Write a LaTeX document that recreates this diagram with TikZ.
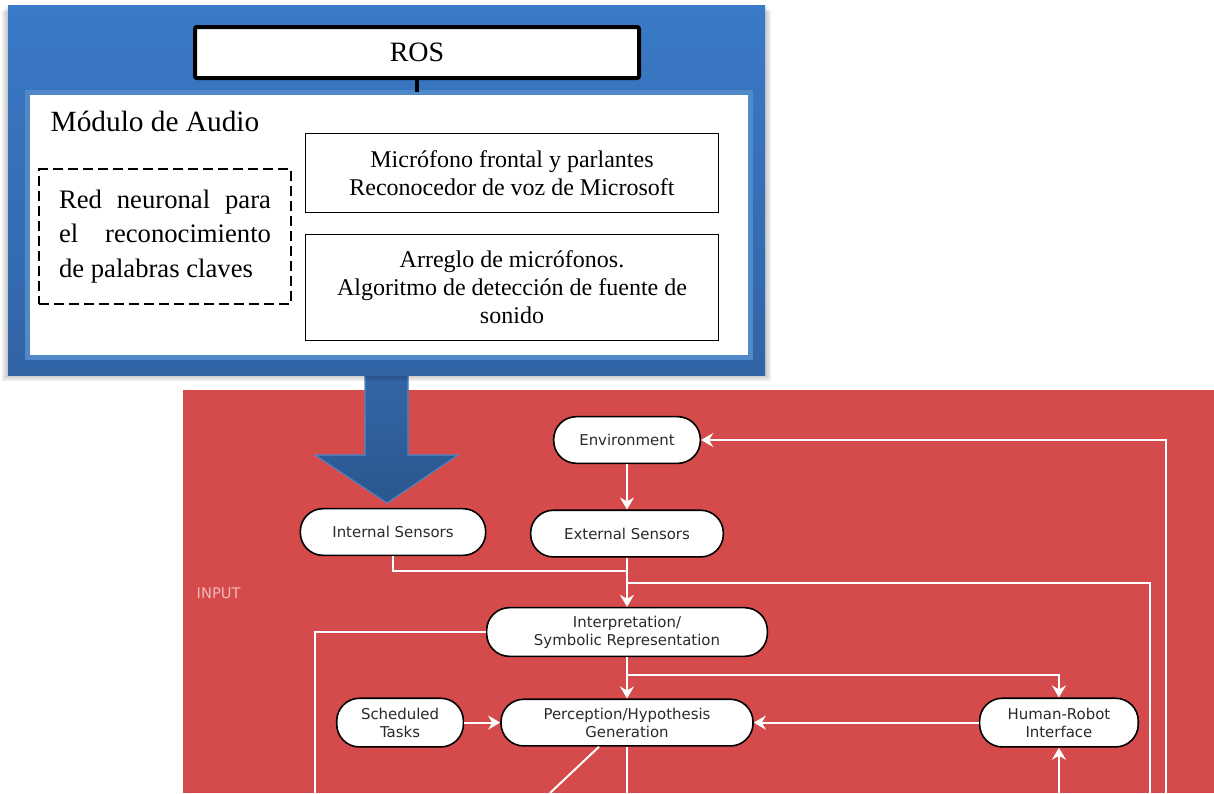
\documentclass[tikz,border=0pt]{standalone}
\usepackage{fontspec}
\setmainfont{Liberation Serif}
\newfontfamily\flowfont{DejaVu Sans}
\usetikzlibrary{arrows.meta,positioning,calc}
\definecolor{paneltop}{HTML}{3A7AC8}
\definecolor{panelbot}{HTML}{3264A6}
\definecolor{bevel}{HTML}{5088C8}
\definecolor{arrowblue}{HTML}{3366A8}
\definecolor{flowred}{HTML}{D54A4A}
\definecolor{inputpink}{HTML}{F2B8B8}
\definecolor{pilltext}{HTML}{2A2A2A}

\begin{document}
\begin{tikzpicture}[x=0.75pt,y=-0.75pt,
      hwbox/.style={draw=black,line width=0.6pt,fill=white,minimum width=310pt,align=center,
                    font=\fontsize{18}{21}\selectfont},
      pill/.style={draw=black,line width=1.2pt,fill=white,rounded corners=17pt,minimum height=35pt,
                   text=pilltext,align=center,inner sep=2pt,font=\flowfont\fontsize{11.2}{13.5}\selectfont},
      wline/.style={white,line width=1.5pt},
      arr/.style={wline,-{Stealth[length=9pt,width=10.5pt,inset=3pt]}}]

    \useasboundingbox (0,0) rectangle (1214,793);
    \fill[white] (0,0) rectangle (1214,793);

    % red flow chart area
    \fill[flowred] (183,390) rectangle (1214,793);
    \node[anchor=west,text=inputpink,font=\flowfont\fontsize{11}{13}\selectfont] (inlbl) at (192,593) {INPUT};

    \node[pill,minimum width=110pt] (env) at (627,440) {Environment};
    \node[pill,minimum width=144.5pt,below=34pt of env] (ext) {External Sensors};
    \node[pill,minimum width=139pt] (int) at (393,532) {Internal Sensors};
    \node[pill,minimum width=210.5pt,minimum height=36.5pt] (interp) at (627,632) {Interpretation/\\Symbolic Representation};
    \node[pill,minimum width=189pt,below=31pt of interp] (perc) {Perception/Hypothesis\\Generation};
    \node[pill,minimum width=95pt,minimum height=36.5pt,left=27pt of perc] (sched) {Scheduled\\Tasks};
    \node[pill,minimum width=119pt,minimum height=36.5pt,right=168.75pt of perc] (hri) {Human-Robot\\Interface};

    \coordinate (join) at (627,571);
    \coordinate (split) at (627,583);
    \coordinate (fork) at (627,675);
    \coordinate (outfb) at (1150,793);
    \coordinate (outret) at (1166,793);
    \coordinate (outhri) at (1057,793);
    \coordinate (outleft) at (315,793);
    \coordinate (outmid) at (627,793);
    \coordinate (outdiag) at (550,793);

    \draw[arr] (env) -- (ext);
    \draw[arr] (ext) -- (interp);
    \draw[wline] (int.south) |- (join);
    \draw[wline] (split) -| (outfb);
    \draw[arr] (outret) |- (env.east);
    \draw[arr] (interp) -- (perc);
    \draw[arr] (fork) -| (hri.north);
    \draw[arr] (sched) -- (perc);
    \draw[arr] (hri) -- (perc);
    \draw[arr] (hri.south |- outhri) -- (hri);
    \draw[wline] (interp.west) -| (outleft);
    \draw[wline] (perc.south) -- (outmid);
    \draw[wline] ([xshift=-21pt]perc.south) -- (outdiag);

    % blue block arrow into the sensors
    \fill[top color=arrowblue,bottom color=arrowblue!85!black,draw=bevel,line width=0.8pt]
      (365,372) -- (408,372) -- (408,455) -- (458,455) -- (387,503) -- (315,455) -- (365,455) -- cycle;

    % ROS audio panel
    \foreach \s in {2,4,6}
      \fill[black,opacity=0.07] (8-\s,5+\s) rectangle (765+\s,375+\s);
    \node[inner sep=0,minimum width=567.75pt,minimum height=277.5pt,top color=paneltop,bottom color=panelbot] (panel) at (386.5,190) {};
    \node[inner sep=0,minimum width=546pt,minimum height=202.5pt,fill=bevel] (frame) at (389,225) {};
    \node[inner sep=0,minimum width=538.5pt,minimum height=195pt,fill=white] (audio) at (389,225) {};

    \node[draw=black,line width=3pt,fill=white,rounded corners=1.5pt,minimum width=333pt,minimum height=38.25pt,
          font=\fontsize{21}{25}\selectfont] (ros) at (417,52.5) {ROS};
    \draw[line width=2.5pt] (ros.south) -- ++(0,12);

    \node[anchor=base west,font=\fontsize{22}{26}\selectfont] (modlbl) at (46,131) {Módulo de Audio};

    \node[draw=black,line width=1.6pt,dash pattern=on 7.5pt off 3.75pt,text width=159pt,inner xsep=15pt,
          minimum height=101pt,align=justify,font=\fontsize{20}{26}\selectfont] (kws) at (165,236.5)
      {\hyphenpenalty=10000\relax Red neuronal para el reconocimiento de palabras claves};

    \node[hwbox,minimum height=59.5pt] (mic) at (512,173) {Micrófono frontal y parlantes\\Reconocedor de voz de Microsoft};
    \node[hwbox,minimum height=79.5pt] (arr) at (512,287.5) {Arreglo de micrófonos.\\Algoritmo de detección de fuente de\\sonido};
  \end{tikzpicture}
\end{document}
